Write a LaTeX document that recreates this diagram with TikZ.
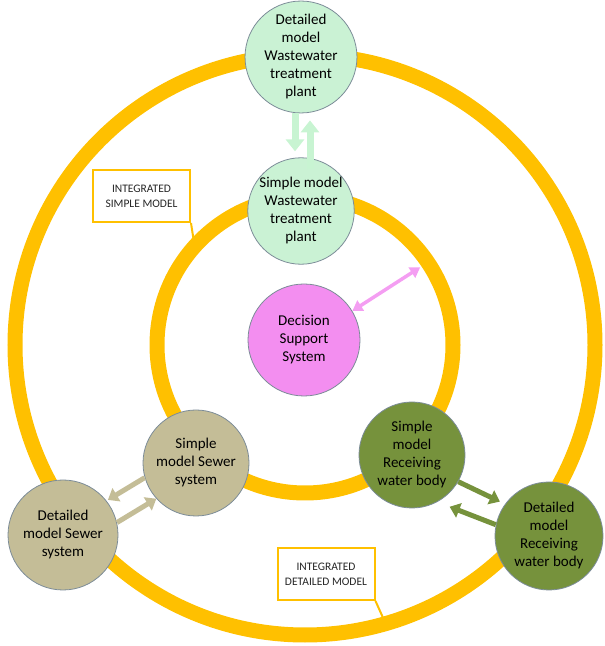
\documentclass[tikz,border=0pt]{standalone}
\usepackage{fontspec}
\setmainfont{Carlito}
\usepackage{tikz}
\usetikzlibrary{calc,arrows.meta}
\definecolor{ring-gold}{HTML}{FFC000}
\definecolor{wwtp-green}{HTML}{CAF2D4}
\definecolor{wwtp-arrow}{HTML}{C8F4D2}
\definecolor{dss-pink}{HTML}{F38EF0}
\definecolor{dss-arrow}{HTML}{F49EF2}
\definecolor{sewer-tan}{HTML}{C4BD97}
\definecolor{river-olive}{HTML}{76923C}
\definecolor{node-edge}{HTML}{7C8C98}
\definecolor{label-text}{HTML}{262626}

\begin{document}
\begin{tikzpicture}[x=1pt, y=1pt,
    model/.style={circle, draw=node-edge, line width=0.8pt, align=center,
        inner sep=0pt, font=\fontsize{15}{18}\selectfont},
    ringline/.style={draw=ring-gold, line width=15pt},
    tag/.style={draw=ring-gold, line width=2pt, fill=white, align=center,
        minimum width=97pt, minimum height=52pt, inner sep=0pt,
        text=label-text, font=\fontsize{11.5}{15}\selectfont},
    fat/.style={line width=7pt, -{Triangle[length=12pt,width=18pt]}},
    mid/.style={line width=5pt, -{Triangle[length=10pt,width=15pt]}}]
    \useasboundingbox (0,0) rectangle (605,646);
    % the two integration rings
    \coordinate (ctr) at (305,301);
    \draw[ringline] (ctr) circle (290);
    \draw[ringline] (ctr) circle (148);
    % model nodes
    \node[model, fill=wwtp-green, minimum size=108pt] (dwwtp) at (301,589)
        {Detailed\\model\\Wastewater\\treatment\\plant};
    \node[model, fill=wwtp-green, minimum size=106pt] (swwtp) at (301,435)
        {Simple model\\Wastewater\\treatment\\plant};
    \node[model, fill=dss-pink, minimum size=112pt] (dss) at (304,306)
        {Decision\\Support\\System};
    \node[model, fill=sewer-tan, minimum size=106pt] (ssew) at (196,183)
        {Simple\\model Sewer\\system};
    \node[model, fill=sewer-tan, minimum size=110pt] (dsew) at (63,111)
        {Detailed\\model Sewer\\system};
    \node[model, fill=river-olive, minimum size=106pt] (sriv) at (412,191)
        {Simple\\model\\Receiving\\water body};
    \node[model, fill=river-olive, minimum size=108pt] (driv) at (549,110)
        {Detailed\\model\\Receiving\\water body};
    % labels of the rings
    \node[tag] (simpletag) at (141.5,450) {INTEGRATED\\SIMPLE MODEL};
    \node[tag] (detailtag) at (326,72) {INTEGRATED\\DETAILED MODEL};
    \coordinate (simplepin) at ($(ctr)+(137:152)$);
    \coordinate (detailpin) at ($(ctr)+(-74:285)$);
    \draw[ring-gold, line width=2pt] (simpletag.south east) -- (simplepin);
    \draw[ring-gold, line width=2pt] (detailtag.south east) -- (detailpin);
    % exchanges between the models
    \draw[fat, wwtp-arrow] ([xshift=-6pt]dwwtp.south) -- ([xshift=-6pt,yshift=6pt]swwtp.north);
    \draw[fat, wwtp-arrow] ([xshift=9pt,yshift=-12pt]swwtp.north) -- ([xshift=9pt,yshift=-7pt]dwwtp.south);
    \coordinate (dsspin) at ($(ctr)+(34:139)$);
    \draw[dss-arrow, line width=3.5pt, {Triangle[length=10pt,width=12pt]}-{Triangle[length=10pt,width=12pt]}]
        (dss.31) -- (dsspin);
    \draw[mid, sewer-tan] (ssew.196) -- ($(dsew)+(38:57)$);
    \draw[mid, sewer-tan] (dsew.13) -- (ssew.222);
    \draw[mid, river-olive] (sriv.-30) -- ($(driv)+(145:60)$);
    \draw[mid, river-olive] (driv.168) -- ($(sriv)+(-54:64)$);
\end{tikzpicture}
\end{document}
